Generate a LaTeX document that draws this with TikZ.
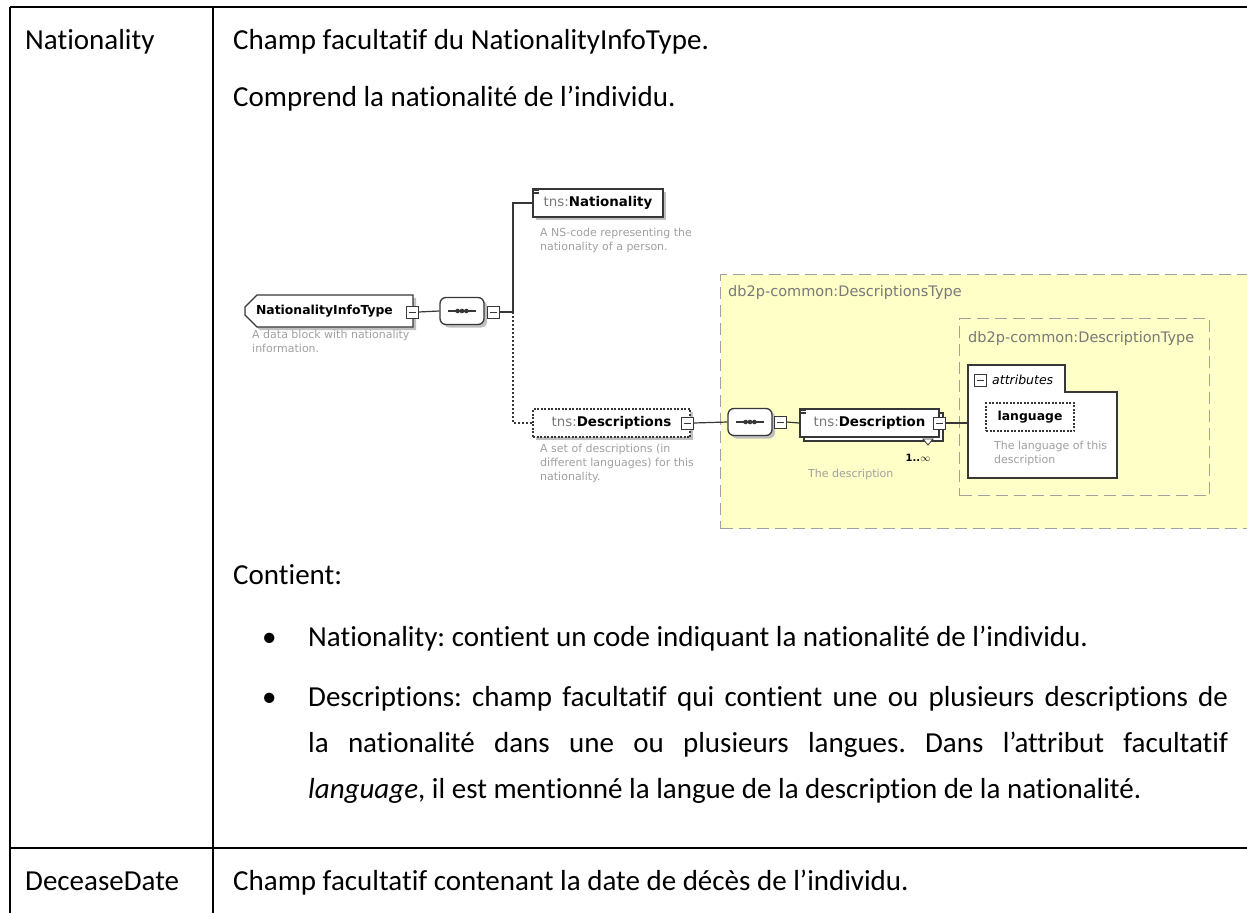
\documentclass[tikz,border=0pt]{standalone}
\usepackage{fontspec}
\setmainfont{Carlito}[Ligatures={NoCommon,NoContextual}]
\newfontfamily\xsdfont{DejaVu Sans}
\usetikzlibrary{shapes.misc,shadows}
\definecolor{typefill}{RGB}{255,255,200}
\definecolor{typeline}{RGB}{160,160,160}
\definecolor{nsgray}{RGB}{120,120,120}
\definecolor{docgray}{RGB}{160,160,160}
\definecolor{elline}{RGB}{55,55,55}
\tikzset{
    tabline/.style={black,line width=2.6pt},
    celltext/.style={anchor=base west,inner sep=0pt,font=\fontsize{29}{35}\selectfont},
    xsd/.style={font=\xsdfont\fontsize{13.4}{15}\selectfont},
    doc/.style={anchor=north west,inner sep=0pt,align=left,text=docgray,font=\xsdfont\fontsize{11}{14}\selectfont},
    typelabel/.style={anchor=west,inner sep=0pt,text=nsgray,font=\xsdfont\fontsize{14.5}{16}\selectfont},
    conn/.style={elline,line width=1.2pt},
    optconn/.style={conn,dash pattern=on 2pt off 2pt},
    elem/.style={xsd,draw=elline,fill=white,line width=1.3pt,minimum height=28pt,inner sep=4pt,
        drop shadow={shadow xshift=3pt,shadow yshift=-3pt,fill=black!25,opacity=1}},
    optelem/.style={elem,dash pattern=on 2pt off 1.5pt},
    multielem/.style={elem,copy shadow={shadow xshift=4pt,shadow yshift=-4pt}},
    minusbox/.style={draw=elline,fill=white,line width=0.9pt,minimum size=12pt,inner sep=0pt,
        path picture={\draw[line width=0.9pt] ([xshift=2.5pt]path picture bounding box.west)
            -- ([xshift=-2.5pt]path picture bounding box.east);}},
    seqbox/.style={rectangle,rounded corners=6pt,draw=elline,fill=white,
        line width=1.3pt,minimum width=44pt,minimum height=27pt,inner sep=0pt,
        drop shadow={shadow xshift=3pt,shadow yshift=-3pt,fill=black!25,opacity=1},
        path picture={\draw[line width=1.2pt,sharp corners] ([xshift=8pt]path picture bounding box.west)
            -- ([xshift=-8pt]path picture bounding box.east);
            \foreach \d in {-4.4,0,4.4} \fill[elline] ([xshift=\d pt]path picture bounding box.center) circle (2.3pt);}},
    typebox/.style={draw=typeline,fill=typefill,line width=1.3pt,dash pattern=on 12pt off 6pt,
        anchor=north west,inner sep=0pt}
}

\begin{document}
\frenchspacing
\begin{tikzpicture}[x=1pt,y=-1pt]
\path[use as bounding box,clip] (0,0) rectangle (1247,913);

% table
\draw[tabline] (10,7) -- (1247,7);
\draw[tabline] (10,848) -- (1247,848);
\draw[tabline] (10,7) -- (10,913);
\draw[tabline] (213,7) -- (213,913);

\node[celltext] (natname) at (25,49) {Nationality};
\node[celltext] (decname) at (25,890) {DeceaseDate};
\node[celltext] (intro1) at (233,49) {Champ facultatif du NationalityInfoType.};
\node[celltext] (intro2) at (233,106) {Comprend la nationalité de l’individu.};
\node[celltext] (contient) at (233,584) {Contient:};
\node[celltext] (dot1) at (262,646) {\textbullet};
\node[celltext] (bul1) at (308,646) {Nationality: contient un code indiquant la nationalité de l’individu.};
\node[celltext] (dot2) at (262,706) {\textbullet};
\node[celltext] (bul2a) at (308,706) {\hbox to 920pt{Descriptions: champ facultatif qui contient une ou plusieurs descriptions de}};
\node[celltext] (bul2b) at (308,752) {\hbox to 920pt{la nationalité dans une ou plusieurs langues. Dans l’attribut facultatif}};
\node[celltext] (bul2c) at (308,798) {\textit{language}, il est mentionné la langue de la description de la nationalité.};
\node[celltext] (decdesc) at (233,890) {Champ facultatif contenant la date de décès de l’individu.};

% schema
\node[typebox,minimum width=560pt,minimum height=254pt] (descstype) at (720,274) {};
\node[typelabel] (descstypename) at (728,292) {db2p-common:DescriptionsType};
\node[typebox,minimum width=250pt,minimum height=177pt] (desctype) at (959,318) {};
\node[typelabel] (desctypename) at (968,338) {db2p-common:DescriptionType};

\node[elem,chamfered rectangle,chamfered rectangle xsep=6pt,chamfered rectangle ysep=6pt,
    chamfered rectangle corners={north west,south west},
    minimum width=168pt,text width=146pt,font=\xsdfont\fontsize{12.4}{14}\selectfont] (nit) at (329,311) {\textbf{NationalityInfoType}};
\node[minusbox] (nitminus) at (412,312) {};
\node[seqbox] (seq1) at (462,311) {};
\node[minusbox] (seq1minus) at (493,312) {};
\node[doc] (nitdoc) at (252,330) {A data block with nationality\\information.};

\node[elem,minimum width=130pt] (natel) at (598,203) {{\color{nsgray}tns:}\textbf{Nationality}};
\node[doc] (nateldoc) at (540,228) {A NS-code representing the\\nationality of a person.};
\node[optelem,minimum width=157pt] (descsel) at (611.5,423) {{\color{nsgray}tns:}\textbf{Descriptions}\hspace{10pt}};
\node[minusbox] (descsminus) at (687,423) {};
\node[doc] (descseldoc) at (540,444) {A set of descriptions (in\\different languages) for this\\nationality.};

\coordinate (busmid) at (513,312);
\draw[conn] (nitminus.east) -- (seq1.west);
\draw[conn] (seq1minus.east) -- (busmid);
\draw[conn] (busmid) |- (natel.west);
\draw[optconn] (busmid) |- (descsel.west);

\node[seqbox] (seq2) at (750,422) {};
\node[minusbox] (seq2minus) at (780,422) {};
\node[multielem,minimum width=139pt] (descel) at (869.5,423) {{\color{nsgray}tns:}\textbf{Description}\hspace{10pt}};
\node[minusbox] (descelminus) at (939,423) {};
\draw[elline,fill=white,line width=0.8pt] (923,439) -- (933,439) -- (928,445) -- cycle;
\node[anchor=base,inner sep=0pt,font=\xsdfont\bfseries\fontsize{10}{12}\selectfont] (descelocc) at (918,461) {1..$\infty$};
\node[doc] (desceldoc) at (808,469) {The description};

\foreach \e in {natel,descel}
    \foreach \k in {0,1.7,3.4}
        \draw[elline,line width=0.6pt] ([xshift=2pt,yshift=-2pt-\k pt]\e.north west) -- ++(5,0);

\draw[conn,fill=white] (968,365) -- (1065,365) -- (1065,392) -- (1117,392) -- (1117,478) -- (968,478) -- cycle;
\coordinate (attrin) at (968,423);
\node[minusbox] (attrminus) at (980,380) {};
\node[anchor=west,inner sep=0pt,font=\xsdfont\itshape\fontsize{12.5}{14}\selectfont] (attrname) at (992,380) {attributes};
\node[xsd,draw=elline,fill=white,line width=1.2pt,dash pattern=on 2pt off 1.5pt,minimum width=88pt,minimum height=28pt,
    inner sep=0pt,font=\xsdfont\fontsize{12.4}{14}\selectfont] (langatt) at (1030,417) {\textbf{language}};
\node[doc] (langdoc) at (994,441) {The language of this\\description};

\draw[conn] (descsminus.east) -- (seq2.west);
\draw[conn] (seq2minus.east) -- (descel.west);
\draw[conn] (descelminus.east) -- (attrin);

\end{tikzpicture}
\end{document}
